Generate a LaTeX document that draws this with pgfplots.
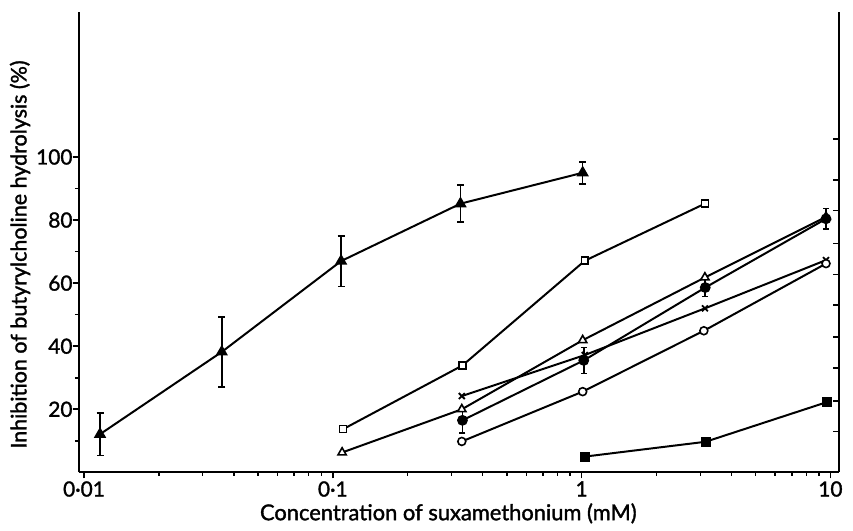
\documentclass[border=0pt]{standalone}
\usepackage{fontspec}
\setmainfont{Lato}
\newfontfamily\heavy{Lato}[FakeBold=1.5]
\usepackage{pgfplots}
\pgfplotsset{compat=1.18}

\begin{document}
\begin{tikzpicture}
\begin{semilogxaxis}[name=main,
  scale only axis, width=382.5pt, height=231.5pt,
  xmin=0.00951, xmax=10.86, ymin=0, ymax=146,
  axis line style={line width=1pt},
  tick style={line width=0.8pt, black},
  axis x line*=bottom, axis y line*=left,
  tick align=outside, major tick length=3pt, minor tick length=1.8pt,
  xtick={0.01,0.1,1,10}, xticklabels={0·01,0·1,1,10},
  minor xtick={0.02,0.03,0.04,0.05,0.06,0.07,0.08,0.09,0.2,0.3,0.4,0.5,0.6,0.7,0.8,0.9,2,3,4,5,6,7,8,9},
  ytick={20,40,60,80,100}, minor ytick={10,30,50,70,90},
  /pgf/number format/assume math mode=true,
  ticklabel style={font=\heavy\fontsize{10.5}{12}\selectfont},
  yticklabel style={xshift=3.5pt},
  xticklabel style={yshift=2pt},
  xlabel={Concentration of suxamethonium (mM)},
  ylabel={Inhibition of butyrylcholine hydrolysis (\%)},
  xlabel style={font=\heavy\fontsize{11}{13}\selectfont, at={(axis description cs:0.486,-0.089)}, anchor=center},
  ylabel style={font=\heavy\fontsize{10.8}{13}\selectfont, at={(axis description cs:-0.077,0.473)}, anchor=center},
  clip=false,
]
% filled triangles, with error bars
\addplot[black, line width=1pt, mark=triangle*, mark size=2.6pt,
  error bars/.cd, y dir=both, y explicit, error mark=|,
  error bar style={line width=0.8pt}, error mark options={line width=0.8pt, mark size=1.75pt}]
  coordinates {
  (0.0116,12.1) +- (0,6.7)
  (0.0358,38.2) +- (0,11.1)
  (0.108,67.0) +- (0,8.0)
  (0.326,85.2) +- (0,5.9)
  (1.01,95.0) +- (0,3.5)
};
% open squares
\addplot[black, line width=1pt, mark=square*, mark size=1.75pt, mark options={fill=white, line width=0.8pt}]
  coordinates {
  (0.110,13.7)
  (0.332,33.9)
  (1.03,67.1)
  (3.13,85.2)
};
% open triangles
\addplot[black, line width=1pt, mark=triangle*, mark size=2.4pt, mark options={fill=white, line width=0.8pt}]
  coordinates {
  (0.109,6.3)
  (0.330,20.0)
  (1.01,41.9)
  (3.13,61.8)
  (9.6,81.0)
};
% filled circles, with error bars
\addplot[black, line width=1pt, mark=*, mark size=2.2pt,
  error bars/.cd, y dir=both, y explicit, error mark=|,
  error bar style={line width=0.8pt}, error mark options={line width=0.8pt, mark size=1.5pt}]
  coordinates {
  (0.332,16.5) +- (0,4.0)
  (1.02,35.5) +- (0,4.1)
  (3.14,58.6) +- (0,2.8)
  (9.6,80.4) +- (0,3.3)
};
% crosses
\addplot[black, line width=1pt, mark=x, mark size=2.1pt, mark options={line width=0.9pt}]
  coordinates {
  (0.330,24.2)
  (1.03,37.2)
  (3.13,52.0)
  (9.6,67.3)
};
% open circles
\addplot[black, line width=1pt, mark=*, mark size=2pt, mark options={fill=white, line width=0.8pt}]
  coordinates {
  (0.330,9.8)
  (1.01,25.6)
  (3.10,44.9)
  (9.6,66.2)
};
% filled squares
\addplot[black, line width=1pt, mark=square*, mark size=2pt]
  coordinates {
  (1.03,5.0)
  (3.15,9.7)
  (9.7,22.3)
};
\end{semilogxaxis}
\begin{semilogxaxis}[
  scale only axis, width=382.5pt, height=231.5pt,
  xmin=0.00951, xmax=10.86, ymin=0, ymax=146,
  axis line style={line width=1pt},
  tick style={line width=0.8pt, black},
  axis y line*=right, axis x line=none,
  tick align=inside, major tick length=3pt,
  ytick={12.9,22.7,33.1,42.9,53,62.8,72.6,83,92.7,105.7}, yticklabels={},
  xtick=\empty,
]
\end{semilogxaxis}
\path ([xshift=-39.5pt, yshift=-26pt]main.south west) rectangle ([xshift=4.5pt, yshift=6pt]main.north east);
\end{tikzpicture}
\end{document}
